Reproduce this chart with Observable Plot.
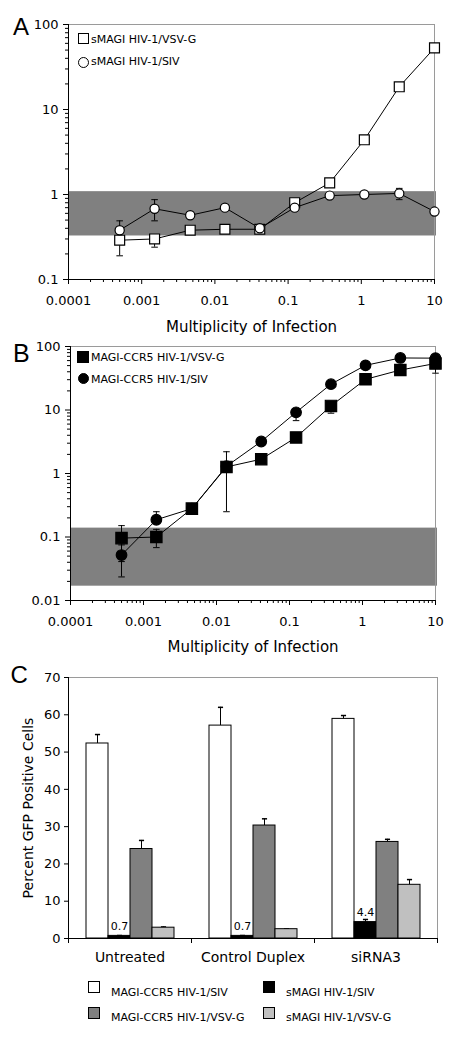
<!DOCTYPE html>
<html><head><meta charset="utf-8">
<script src="https://cdn.jsdelivr.net/npm/d3@7"></script>
<script src="https://cdn.jsdelivr.net/npm/@observablehq/plot@0.6"></script>
<style>
body{margin:0;background:#fff;}
#root{position:relative;width:455px;height:1040px;overflow:hidden;font-family:"DejaVu Sans",sans-serif;color:#000;}
.letter{position:absolute;font-family:"Liberation Sans",Arial,sans-serif;line-height:24px;}
.lg{position:absolute;font-size:11px;line-height:11px;white-space:nowrap;}
.sw{position:absolute;box-sizing:border-box;border:1.3px solid #000;}
</style></head><body><div id="root"></div>
<script>
// ---------- shared x (multiplicity of infection) ----------
const moi = [0.0005, 0.0015, 0.0046, 0.0137, 0.041, 0.123, 0.37, 1.1, 3.3, 10];
const moiDomain = [0.0001, 10];
const moiTicks = [0.0001, 0.001, 0.01, 0.1, 1, 10];
const moiTickLabels = ["0.0001", "0.001", "0.01", "0.1", "1", "10"];
const xTitle = "Multiplicity of Infection";

// ---------- Panel A ----------
const aDomain = [0.1, 100];
const aTicks = [0.1, 1, 10, 100];
const aTickLabels = ["0.1", "1", "10", "100"];
const aBand = [0.325, 1.08];
const aVsvgName = "sMAGI HIV-1/VSV-G";
const aVsvg   = [0.29, 0.30, 0.38, 0.39, 0.39, 0.80, 1.37, 4.4, 18.5, 53];
const aVsvgLo = [0.19, 0.24, null, null, null, null, null, null, null, null];
const aVsvgHi = [null, null, null, null, null, 0.86, null, null, null, null];
const aSivName = "sMAGI HIV-1/SIV";
const aSiv   = [0.38, 0.68, 0.57, 0.70, 0.40, 0.70, 0.97, 1.0, 1.03, 0.63];
const aSivLo = [null, 0.49, null, null, null, 0.64, null, 0.94, 0.87, null];
const aSivHi = [0.49, 0.87, null, null, null, null, null, null, 1.18, null];

// ---------- Panel B ----------
const bDomain = [0.01, 100];
const bTicks = [0.01, 0.1, 1, 10, 100];
const bTickLabels = ["0.01", "0.1", "1", "10", "100"];
const bBand = [0.0168, 0.138];
const bVsvgName = "MAGI-CCR5 HIV-1/VSV-G";
const bVsvg   = [0.096, 0.10, 0.28, 1.27, 1.68, 3.7, 11.6, 30.4, 42.6, 54];
const bVsvgLo = [0.041, 0.068, null, 0.25, null, null, 8.9, null, null, 38];
const bVsvgHi = [0.151, 0.132, null, 2.2, null, null, null, null, null, null];
const bSivName = "MAGI-CCR5 HIV-1/SIV";
const bSiv   = [0.052, 0.187, 0.28, 1.3, 3.19, 9.2, 25.5, 50.5, 66, 65.5];
const bSivLo = [0.0235, null, null, null, null, 6.8, null, null, null, null];
const bSivHi = [0.075, 0.25, null, null, null, null, null, null, null, null];

// ---------- Panel C ----------
const groups = ["Untreated", "Control Duplex", "siRNA3"];
const series = ["MAGI-CCR5 HIV-1/SIV", "sMAGI HIV-1/SIV", "MAGI-CCR5 HIV-1/VSV-G", "sMAGI HIV-1/VSV-G"];
const seriesColors = ["#ffffff", "#000000", "#808080", "#c0c0c0"];
const cCcr5Siv    = [52.3, 57.1, 58.9];
const cCcr5SivErr = [2.4, 4.9, 0.9];
const cSmagiSiv    = [0.7, 0.7, 4.4];
const cSmagiSivErr = [0.1, 0.1, 0.7];
const cCcr5Vsvg    = [24.0, 30.3, 25.9];
const cCcr5VsvgErr = [2.3, 1.8, 0.7];
const cSmagiVsvg    = [2.9, 2.5, 14.4];
const cSmagiVsvgErr = [0.2, 0.1, 1.4];
const cValueLabels = ["0.7", "0.7", "4.4"];
const cTicks = [0, 10, 20, 30, 40, 50, 60, 70];
const cYTitle = "Percent GFP Positive Cells";

// ---------- helpers ----------
const root = document.getElementById("root");
const W = 455;
const capSym = {draw(ctx, size) { const w = Math.sqrt(size) / 2; ctx.moveTo(-w, 0); ctx.lineTo(w, 0); }};
const minor = (e0, e1) => d3.range(e0, e1).flatMap(e => d3.range(2, 10).map(m => +(m * Math.pow(10, e)).toPrecision(3)));
const xLabelMap = new Map(moiTicks.map((t, i) => [t, moiTickLabels[i]]));
const rowsOf = v => moi.map((x, i) => ({x, y: v[i]}));
const errOf = (v, lo, hi) => moi.flatMap((x, i) => (lo[i] == null && hi[i] == null) ? [] : [{x, y1: lo[i] ?? v[i], y2: hi[i] ?? v[i]}]);
const capsOf = (lo, hi) => moi.flatMap((x, i) => [lo[i], hi[i]].filter(y => y != null).map(y => ({x, y})));
const baseStyle = {fontFamily: "DejaVu Sans", fontSize: "13px", color: "#000", background: "transparent", overflow: "visible"};

function logPanel(cfg) {
  const yLabelMap = new Map(cfg.yTicks.map((t, i) => [t, cfg.yLabels[i]]));
  const marks = [
    Plot.rect([cfg.band], {x1: () => moiDomain[0], x2: () => moiDomain[1], y1: d => d[0], y2: d => d[1], fill: "#808080", insetRight: -2}),
    Plot.frame({stroke: "#9a9a9a"}),
    Plot.ruleX([moiDomain[0]], {stroke: "#000"}),
    Plot.ruleY([cfg.yDomain[0]], {stroke: "#000"}),
    Plot.axisX(minor(-4, 1), {tickSize: 3, tickFormat: () => "", label: null}),
    Plot.axisX(moiTicks, {tickSize: 5, tickPadding: 11, tickFormat: d => xLabelMap.get(d), fontSize: 13, label: null}),
    Plot.axisY(minor(Math.round(Math.log10(cfg.yDomain[0])), Math.round(Math.log10(cfg.yDomain[1]))), {tickSize: 3, tickFormat: () => "", label: null}),
    Plot.axisY(cfg.yTicks, {tickSize: 5, tickPadding: 5, tickFormat: d => yLabelMap.get(d), fontSize: 13, label: null}),
    Plot.text([xTitle], {frameAnchor: "bottom", lineAnchor: "bottom", dy: cfg.titleDy, fontSize: 15})
  ];
  for (const s of cfg.series) {
    marks.push(Plot.ruleX(errOf(s.v, s.lo, s.hi), {x: "x", y1: "y1", y2: "y2", stroke: "#000", strokeWidth: 1}));
    marks.push(Plot.dot(capsOf(s.lo, s.hi), {x: "x", y: "y", symbol: capSym, r: 3.7, stroke: "#000", strokeWidth: 1, fill: "none"}));
  }
  for (const s of cfg.series) marks.push(Plot.line(rowsOf(s.v), {x: "x", y: "y", stroke: "#000", strokeWidth: 1}));
  for (const s of cfg.series) marks.push(Plot.dot(rowsOf(s.v), {x: "x", y: "y", symbol: s.symbol, r: s.r, fill: s.fill, stroke: "#000", strokeWidth: 1.2}));
  return Plot.plot({
    width: W, height: cfg.height,
    marginLeft: cfg.ml, marginRight: cfg.mr, marginTop: cfg.mt, marginBottom: cfg.mb,
    style: baseStyle,
    x: {type: "log", domain: moiDomain},
    y: {type: "log", domain: cfg.yDomain},
    marks
  });
}

function place(el, top) { el.style.position = "absolute"; el.style.left = "0px"; el.style.top = top + "px"; root.appendChild(el); }
function letter(t, left, top, size) { const d = document.createElement("div"); d.className = "letter"; d.textContent = t; d.style.left = left + "px"; d.style.top = top + "px"; d.style.fontSize = size + "px"; root.appendChild(d); }
function swatch(left, top, size, fill, round) { const d = document.createElement("div"); d.className = "sw"; Object.assign(d.style, {left: left + "px", top: top + "px", width: size + "px", height: size + "px", background: fill, borderRadius: round ? "50%" : "0"}); root.appendChild(d); }
function label(t, left, baseline) { const d = document.createElement("div"); d.className = "lg"; d.textContent = t; d.style.left = left + "px"; d.style.top = (baseline - 9.3) + "px"; root.appendChild(d); }

// ---------- Panel A ----------
place(logPanel({
  height: 330, ml: 68, mr: 21, mt: 24, mb: 51, titleDy: 52.5,
  yDomain: aDomain, yTicks: aTicks, yLabels: aTickLabels, band: aBand,
  series: [
    {v: aVsvg, lo: aVsvgLo, hi: aVsvgHi, symbol: "square", r: 5.6, fill: "#fff"},
    {v: aSiv, lo: aSivLo, hi: aSivHi, symbol: "circle", r: 4.6, fill: "#fff"}
  ]
}), 0);

// ---------- Panel B ----------
place(logPanel({
  height: 330, ml: 70, mr: 20, mt: 16, mb: 60, titleDy: 51.7,
  yDomain: bDomain, yTicks: bTicks, yLabels: bTickLabels, band: bBand,
  series: [
    {v: bSiv, lo: bSivLo, hi: bSivHi, symbol: "circle", r: 5.3, fill: "#000"},
    {v: bVsvg, lo: bVsvgLo, hi: bVsvgHi, symbol: "square", r: 6.4, fill: "#000"}
  ]
}), 330);

// ---------- Panel C ----------
const cValues = [cCcr5Siv, cSmagiSiv, cCcr5Vsvg, cSmagiVsvg];
const cErrs = [cCcr5SivErr, cSmagiSivErr, cCcr5VsvgErr, cSmagiVsvgErr];
const cData = groups.flatMap((g, gi) => series.map((s, si) => ({group: g, series: s, value: cValues[si][gi], err: cErrs[si][gi]})));
const cLabelRows = groups.map((g, gi) => ({group: g, series: series[1], value: cSmagiSiv[gi], text: cValueLabels[gi]}));
const cH = 320, cMt = 22, cMb = 37;
const cFrameH = cH - cMt - cMb;
place(Plot.plot({
  width: W, height: cH, marginLeft: 68, marginRight: 18, marginTop: cMt, marginBottom: cMb,
  style: baseStyle,
  fx: {domain: groups, padding: 0, label: null},
  x: {domain: series, paddingInner: 0, paddingOuter: 0.75, axis: null},
  y: {domain: [0, 70]},
  color: {domain: series, range: seriesColors},
  marks: [
    Plot.ruleY([70], {stroke: "#9a9a9a"}),
    Plot.frame({anchor: "right", stroke: "#9a9a9a", facetAnchor: "right"}),
    Plot.ruleX(cData, {fx: "group", x: "series", y1: "value", y2: d => d.value + d.err, stroke: "#000"}),
    Plot.dot(cData, {fx: "group", x: "series", y: d => d.value + d.err, symbol: capSym, r: 2.9, stroke: "#000", fill: "none"}),
    Plot.barY(cData, {fx: "group", x: "series", y: "value", fill: "series", stroke: "#000", strokeWidth: 1}),
    Plot.text(cLabelRows, {fx: "group", x: "series", y: "value", text: "text", lineAnchor: "bottom", dy: -6, fontSize: 11}),
    Plot.ruleY([0], {stroke: "#000"}),
    Plot.frame({anchor: "left", stroke: "#000", facetAnchor: "left"}),
    Plot.frame({anchor: "left", stroke: "#000", insetTop: cFrameH, insetBottom: -4}),
    Plot.frame({anchor: "right", stroke: "#000", insetTop: cFrameH, insetBottom: -4, facetAnchor: "right"}),
    Plot.axisY(cTicks, {tickSize: 4, tickPadding: 4, fontSize: 13, label: null}),
    Plot.axisFx({anchor: "bottom", tickSize: 0, tickPadding: 14, fontSize: 14, label: null}),
    Plot.text([cYTitle], {frameAnchor: "left", textAnchor: "middle", rotate: -90, lineAnchor: "bottom", dx: -36, fontSize: 14, facetAnchor: "left"})
  ]
}), 655);

// ---------- panel letters ----------
letter("A", 13, 14.7, 24);
letter("B", 13, 340.5, 25);
letter("C", 10.5, 663, 24);

// ---------- legends ----------
swatch(78, 33, 11, "#fff", false); label(aVsvgName, 91, 43);
swatch(78, 57, 11, "#fff", true);  label(aSivName, 91, 65.3);
swatch(77, 351, 11.5, "#000", false); label(bVsvgName, 91, 361);
swatch(78, 373, 11, "#000", true);    label(bSivName, 91, 383.3);
const legPos = [[88, 981, 111, 996.7], [263, 981, 286, 996.7], [88, 1007, 111, 1021.7], [263, 1007, 286, 1021.7]];
series.forEach((s, i) => { const p = legPos[i]; swatch(p[0], p[1], 12, seriesColors[i], false); label(s, p[2], p[3]); });
</script></body></html>
